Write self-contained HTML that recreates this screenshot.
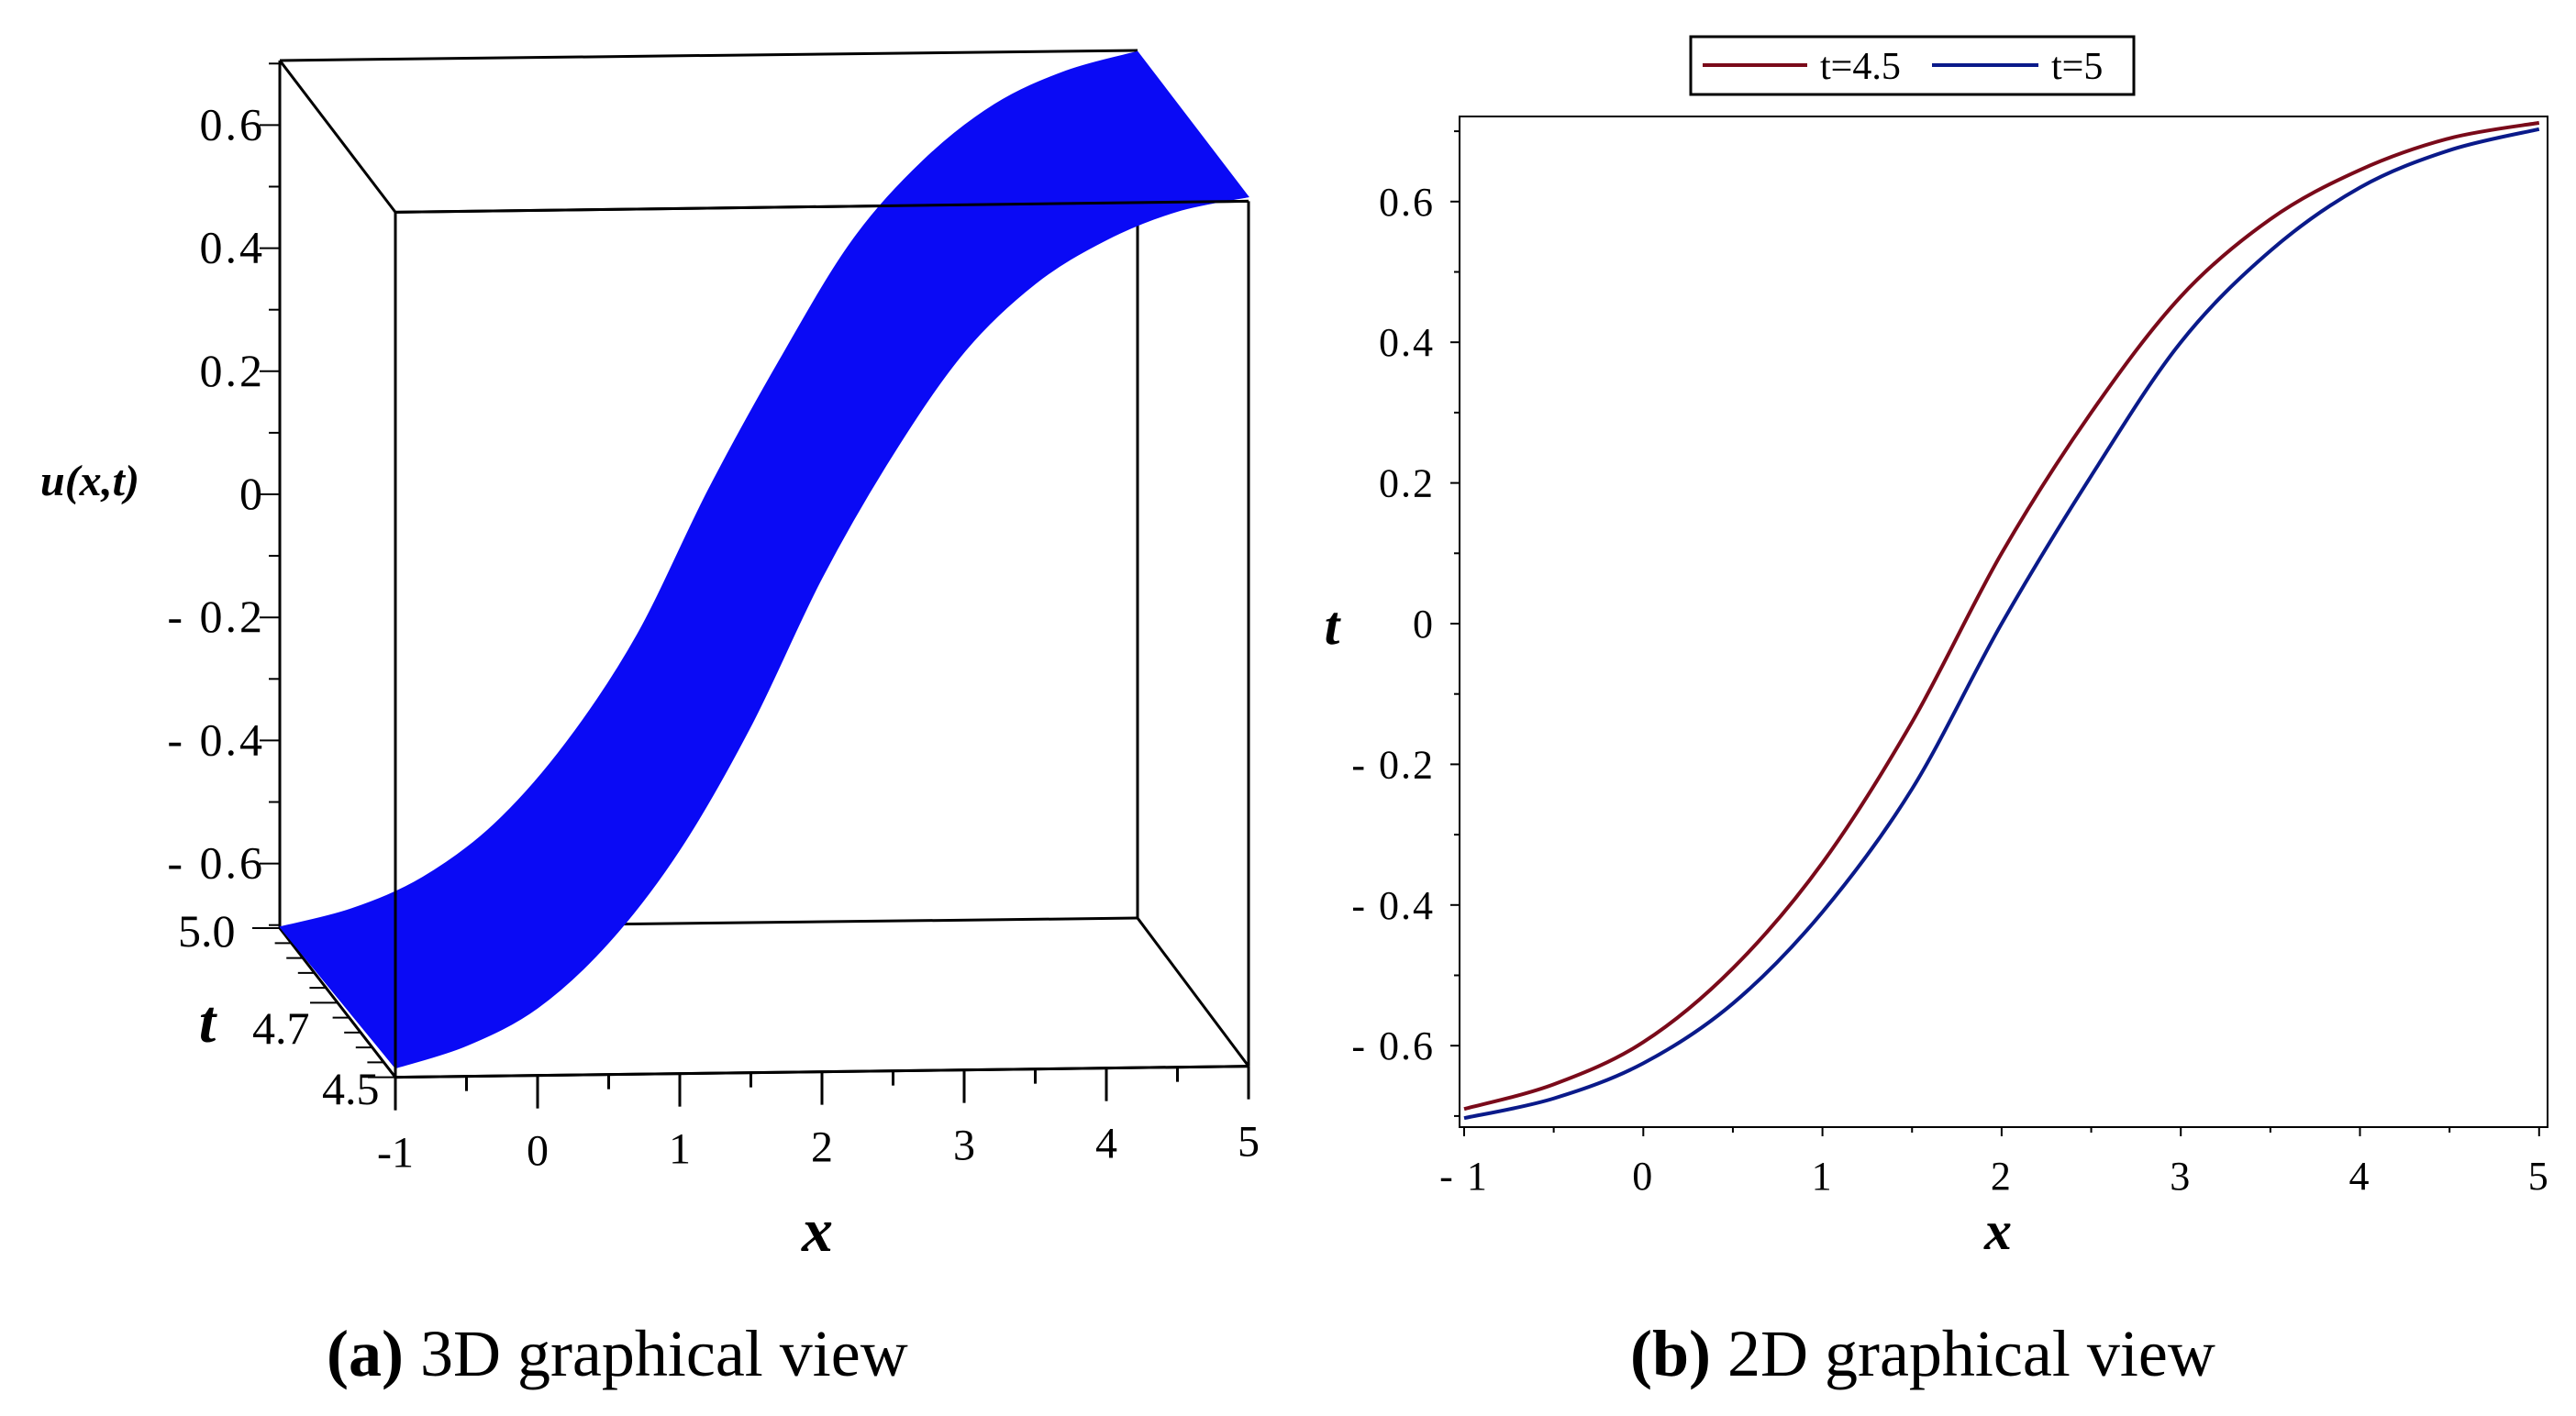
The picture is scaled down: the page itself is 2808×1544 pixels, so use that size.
<!DOCTYPE html>
<html><head><meta charset="utf-8"><style>
html,body{margin:0;padding:0;background:#fff;}
svg{display:block;font-family:"Liberation Serif",serif;}
</style></head><body>
<svg id="fig" width="2808" height="1544" viewBox="0 0 2808 1544" xmlns="http://www.w3.org/2000/svg">
<g id="left"></g>
<g id="right"></g>
<text x="356" y="1500" font-size="72"><tspan font-weight="bold">(a)</tspan> 3D graphical view</text>
<text x="1777" y="1500" font-size="72"><tspan font-weight="bold">(b)</tspan> 2D graphical view</text>
</svg>
<script>
const xs = [-1,-0.5,0,0.5,1,1.5,2,2.5,3,3.5,4,4.5,5];
const redVals = [-0.69,-0.655,-0.595,-0.49,-0.34,-0.14,0.10,0.30,0.465,0.575,0.645,0.69,0.712];
const blueVals = [-0.703,-0.675,-0.625,-0.54,-0.41,-0.235,0.0,0.21,0.40,0.53,0.62,0.673,0.703];
const yTicks = [-0.6,-0.4,-0.2,0,0.2,0.4,0.6];
const yTickLabels = ["-0.6","-0.4","-0.2","0","0.2","0.4","0.6"];
const xTicks = [-1,0,1,2,3,4,5];
const xTickLabels = ["-1","0","1","2","3","4","5"];
const legendLabels = ["t=4.5","t=5"];

const NS="http://www.w3.org/2000/svg";
function mk(p,tag,a){const e=document.createElementNS(NS,tag);for(const k in a)e.setAttribute(k,a[k]);p.appendChild(e);return e;}
function spline(pts){let d=`M${pts[0][0]},${pts[0][1]}`;for(let i=0;i<pts.length-1;i++){const p0=pts[Math.max(i-1,0)],p1=pts[i],p2=pts[i+1],p3=pts[Math.min(i+2,pts.length-1)];
d+=` C${p1[0]+(p2[0]-p0[0])/6},${p1[1]+(p2[1]-p0[1])/6} ${p2[0]-(p3[0]-p1[0])/6},${p2[1]-(p3[1]-p1[1])/6} ${p2[0]},${p2[1]}`;}return d;}

// ---------- right 2D ----------
const R=document.getElementById('right');
const sx=v=>1596+(v+1)*195.3, sy=v=>680-v*767;
let e=mk(R,'rect',{x:1591,y:127,width:1186,height:1102,fill:'none',stroke:'#000','stroke-width':2});

for(let v=-0.7;v<=0.71;v+=0.1){const y=sy(v);const major=yTicks.some(t=>Math.abs(t-v)<1e-6);
 e=mk(R,'line',{x1:1591,x2:1591-(major?10:6),y1:y,y2:y,stroke:'#000','stroke-width':2});
 }
yTicks.forEach((v,i)=>{e=mk(R,'text',{x:1564,y:sy(v)+15,'font-size':44,'text-anchor':'end','letter-spacing':2});e.textContent=yTickLabels[i].replace('-','- ');
 });
for(let v=-1;v<=5.01;v+=0.5){const x=sx(v);const major=Math.abs(v-Math.round(v))<1e-6;
 e=mk(R,'line',{x1:x,x2:x,y1:1229,y2:1229+(major?10:6),stroke:'#000','stroke-width':2});
 }
xTicks.forEach((v,i)=>{e=mk(R,'text',{x:sx(v),y:1297,'font-size':44,'text-anchor':'middle','letter-spacing':2});e.textContent=xTickLabels[i].replace('-','- ');
 });
e=mk(R,'text',{x:2178,y:1362,'font-size':60,'font-weight':'bold','font-style':'italic','text-anchor':'middle'});e.textContent='x';

e=mk(R,'text',{x:1452,y:702,'font-size':60,'font-weight':'bold','font-style':'italic','text-anchor':'middle'});e.textContent='t';

e=mk(R,'path',{d:spline(xs.map((x,i)=>[sx(x),sy(redVals[i])])),fill:'none',stroke:'#7a0a1a','stroke-width':4});

e=mk(R,'path',{d:spline(xs.map((x,i)=>[sx(x),sy(blueVals[i])])),fill:'none',stroke:'#0a1a8a','stroke-width':4});

e=mk(R,'rect',{x:1843,y:40,width:483,height:63,fill:'#fff',stroke:'#000','stroke-width':3});

e=mk(R,'line',{x1:1856,x2:1970,y1:71,y2:71,stroke:'#7a0a1a','stroke-width':4});

e=mk(R,'text',{x:1984,y:86,'font-size':42});e.textContent=legendLabels[0];

e=mk(R,'line',{x1:2106,x2:2222,y1:71,y2:71,stroke:'#0a1a8a','stroke-width':4});

e=mk(R,'text',{x:2236,y:86,'font-size':42});e.textContent=legendLabels[1];


// ---------- left 3D ----------
const L=document.getElementById('left');
function P(x,u,front){const f=(x+1)/6;
 if(front) return [431+f*930, 703-u*669-f*12];
 return [305+f*935, 539-u*671-f*11];}
const lines=[
 [P(-1,0.705,0),P(5,0.705,0)],[P(-1,0.705,0),P(-1,-0.705,0)],[P(-1,-0.705,0),P(5,-0.705,0)],[P(5,-0.705,0),P(5,0.61,0)],
 [P(-1,0.705,1),P(5,0.705,1)],[P(-1,0.705,1),P(-1,-0.705,1)],[P(-1,-0.705,1),P(5,-0.705,1)],[P(5,-0.705,1),P(5,0.705,1)],
 [P(-1,0.705,0),P(-1,0.705,1)],[P(5,-0.705,0),P(5,-0.705,1)],[P(-1,-0.705,0),P(-1,-0.705,1)]];
lines.forEach(l=>{e=mk(L,'line',{x1:l[0][0],y1:l[0][1],x2:l[1][0],y2:l[1][1],stroke:'#000','stroke-width':3});
 });
const back=xs.map((x,i)=>P(x,blueVals[i],0)), front=xs.map((x,i)=>P(x,redVals[i],1)).reverse();
let d=spline(back)+' L'+front[0][0]+','+front[0][1]+spline(front).replace(/^M[^C]*/,' ')+' Z';
e=mk(L,'path',{d:d,fill:'#0a0af5',stroke:'#0a0af5','stroke-width':1});

[[P(-1,0.705,1),P(5,0.705,1)],[P(-1,0.705,1),P(-1,-0.705,1)],[P(-1,-0.705,1),P(5,-0.705,1)]].forEach(l=>{
 e=mk(L,'line',{x1:l[0][0],y1:l[0][1],x2:l[1][0],y2:l[1][1],stroke:'#000','stroke-width':3});
 });
for(let v=-0.7;v<=0.71;v+=0.1){const p=P(-1,v,0);const major=yTicks.some(t=>Math.abs(t-v)<1e-6);
 e=mk(L,'line',{x1:p[0],x2:p[0]-(major?22:12),y1:p[1],y2:p[1],stroke:'#000','stroke-width':2});
 }
yTicks.forEach((v,i)=>{const p=P(-1,v,0);e=mk(L,'text',{x:p[0]-16,y:p[1]+16,'font-size':50,'text-anchor':'end','letter-spacing':3});e.textContent=yTickLabels[i].replace('-','- ');
 });
for(let v=-1;v<=5.01;v+=0.5){const p=P(v,-0.705,1);const major=Math.abs(v-Math.round(v))<1e-6;
 e=mk(L,'line',{x1:p[0],x2:p[0],y1:p[1],y2:p[1]+(major?36:16),stroke:'#000','stroke-width':3});
 }
xTicks.forEach((v,i)=>{const p=P(v,-0.705,1);e=mk(L,'text',{x:p[0],y:p[1]+98,'font-size':48,'text-anchor':'middle'});e.textContent=xTickLabels[i];
 });
for(let k=0;k<=10;k++){const f=k/10;const a=P(-1,-0.705,0),b=P(-1,-0.705,1);const x=a[0]+(b[0]-a[0])*f,y=a[1]+(b[1]-a[1])*f;
 e=mk(L,'line',{x1:x,x2:x-(k%5==0?30:18),y1:y,y2:y,stroke:'#000','stroke-width':2});
 }
e=mk(L,'text',{x:194,y:1032,'font-size':50});e.textContent='5.0';
e=mk(L,'text',{x:275,y:1138,'font-size':50});e.textContent='4.7';
e=mk(L,'text',{x:351,y:1204,'font-size':50});e.textContent='4.5';
e=mk(L,'text',{x:226,y:1136,'font-size':66,'font-weight':'bold','font-style':'italic','text-anchor':'middle'});e.textContent='t';

e=mk(L,'text',{x:891,y:1364,'font-size':68,'font-weight':'bold','font-style':'italic','text-anchor':'middle'});e.textContent='x';

e=mk(L,'text',{x:98,y:540,'font-size':48,'font-weight':'bold','font-style':'italic','text-anchor':'middle'});e.textContent='u(x,t)';

</script>
</body></html>
